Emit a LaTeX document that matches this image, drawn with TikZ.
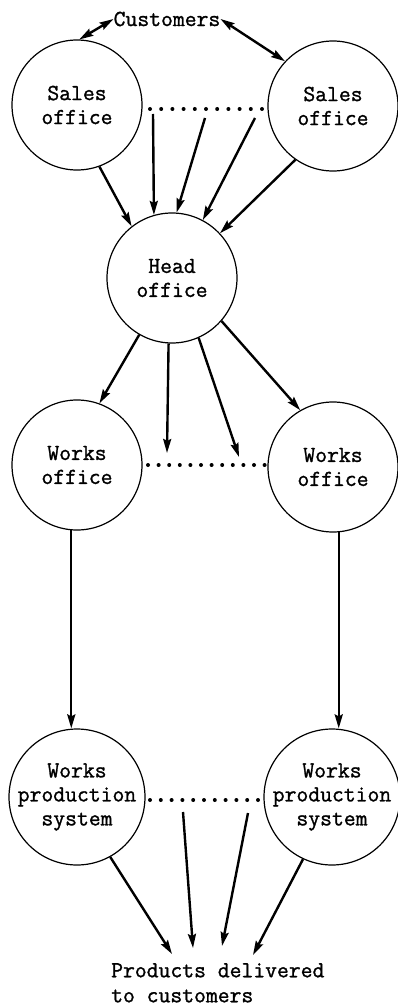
\documentclass[tikz,border=0pt]{standalone}
\usepackage{fontspec}
\setmonofont[FakeBold=1.2]{Latin Modern Mono}
\usetikzlibrary{arrows.meta}
\tikzset{
  unit/.style={circle,draw,line width=1.2pt,minimum size=130pt,inner sep=0pt,align=center,font=\ttfamily\fontsize{23}{24}\selectfont},
  lbl/.style={inner sep=0pt,align=left,font=\ttfamily\fontsize{23}{25}\selectfont},
  arr/.style={line width=2.4pt,-{Stealth[length=14pt,width=8pt,inset=2pt]}},
  darr/.style={line width=2.4pt,{Stealth[length=14pt,width=8pt,inset=2pt]}-{Stealth[length=14pt,width=8pt,inset=2pt]}},
  dots/.style={line width=4pt,line cap=round,dash pattern=on 0pt off 11.2pt}
}
\begin{document}
\begin{tikzpicture}[x=1pt,y=-1pt]
\useasboundingbox (0,0) rectangle (397,1006);
\node[unit] (sL) at (77,105) {Sales\\office};
\node[unit] (sR) at (333,106) {Sales\\office};
\node[unit] (hd) at (172,278) {Head\\office};
\node[unit] (wL) at (77,465) {Works\\office};
\node[unit] (wR) at (333,467) {Works\\office};
\node[unit] (pL) at (77,797) {Works\\production\\system};
\node[unit] (pR) at (332,797) {Works\\production\\system};
\node[lbl] (cu) at (167,19) {Customers};
\node[lbl,anchor=north west] (pr) at (111,963) {Products delivered\\to customers};
% customers
\draw[darr] (sL.88) -- (cu.west);
\draw[darr] (cu.east) -- (sR.137);
% sales dotted line
\coordinate (sd1) at (150,109);
\coordinate (sd2) at (264,109);
\draw[dots] (sd1) -- (sd2);
\coordinate (sa1) at (153,114);
\coordinate (sa2) at (205,118);
\coordinate (sa3) at (255,118);
\draw[arr] (sa1) -- (hd.106);
\draw[arr] (sa2) -- (hd.86);
\draw[arr] (sa3) -- (hd.62);
\draw[arr] (sL.-70) -- (hd.128);
\draw[arr] (sR.-125) -- (hd.43);
% head to works
\coordinate (wa1) at (167,453);
\coordinate (wa2) at (239,457);
\draw[arr] (hd.-120) -- (wL.70);
\draw[arr] (hd.-93) -- (wa1);
\draw[arr] (hd.-66) -- (wa2);
\draw[arr] (hd.-41) -- (wR.120);
\coordinate (wd1) at (148,465);
\coordinate (wd2) at (265,465);
\draw[dots,dash pattern=on 0pt off 10.6pt] (wd1) -- (wd2);
% works to production
\draw[arr] (wL.-95) -- (wL.-95 |- pL.north);
\draw[arr] (wR.-85) -- (wR.-85 |- pR.north);
% production dotted
\coordinate (pd1) at (150,800);
\coordinate (pd2) at (258,800);
\draw[dots,dash pattern=on 0pt off 10.8pt] (pd1) -- (pd2);
\coordinate (pa1) at (183,812);
\coordinate (pa2) at (248,813);
\coordinate (pe0) at (172,954);
\coordinate (pe1) at (193,948);
\coordinate (pe2) at (222,946);
\coordinate (pe3) at (253,955);
\draw[arr] (pL.-61) -- (pe0);
\draw[arr] (pa1) -- (pe1);
\draw[arr] (pa2) -- (pe2);
\draw[arr] (pR.-115) -- (pe3);
\end{tikzpicture}
\end{document}
